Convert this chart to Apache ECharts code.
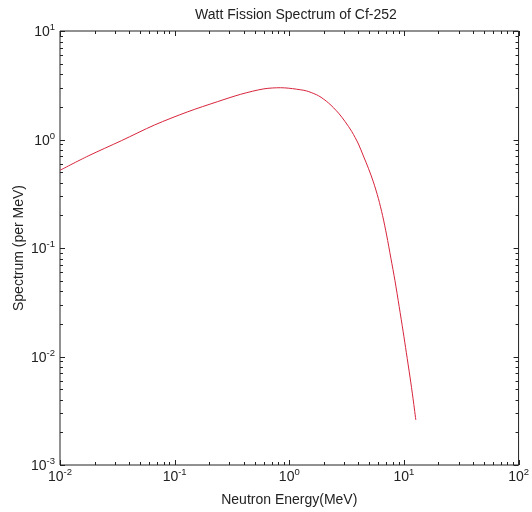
<!DOCTYPE html>
<html>
<head>
<meta charset="utf-8">
<script src="https://cdn.jsdelivr.net/npm/echarts@6/dist/echarts.min.js"></script>
<style>
  html, body { margin: 0; padding: 0; background: #fff; }
  #chart { width: 532px; height: 512px; }
</style>
</head>
<body>
<div id="chart"></div>
<script>
// Neutron energy (MeV) and spectrum value (per MeV) along the curve
const energy = [0.01, 0.0176, 0.0343, 0.0667, 0.130, 0.236, 0.377, 0.601, 0.839, 0.99, 1.34, 1.48, 1.80, 2.20, 2.69, 3.07, 3.51, 4.01, 4.43, 4.90, 5.41, 5.98, 6.51, 7.06, 7.70, 8.35, 9.09, 9.85, 10.5, 11.3, 12.0, 12.7];
const spectrum = [0.52, 0.705, 0.975, 1.36, 1.80, 2.23, 2.61, 2.93, 3.00, 2.97, 2.84, 2.76, 2.53, 2.17, 1.75, 1.46, 1.183, 0.909, 0.705, 0.543, 0.407, 0.287, 0.1995, 0.132, 0.0803, 0.0501, 0.0288, 0.0169, 0.01084, 0.00646, 0.00412, 0.0026];

// Decade ticks and their exponent labels
const xMajorTicks = [0.01, 0.1, 1, 10, 100];
const xTickExponents = ['-2', '-1', '0', '1', '2'];
const yMajorTicks = [0.001, 0.01, 0.1, 1, 10];
const yTickExponents = ['-3', '-2', '-1', '0', '1'];

// Minor ticks at 2..9 within each decade
const xMinorTicks = [0.02, 0.03, 0.04, 0.05, 0.06, 0.07, 0.08, 0.09,
                     0.2, 0.3, 0.4, 0.5, 0.6, 0.7, 0.8, 0.9,
                     2, 3, 4, 5, 6, 7, 8, 9,
                     20, 30, 40, 50, 60, 70, 80, 90];
const yMinorTicks = [0.002, 0.003, 0.004, 0.005, 0.006, 0.007, 0.008, 0.009,
                     0.02, 0.03, 0.04, 0.05, 0.06, 0.07, 0.08, 0.09,
                     0.2, 0.3, 0.4, 0.5, 0.6, 0.7, 0.8, 0.9,
                     2, 3, 4, 5, 6, 7, 8, 9];

const X_MIN = 0.01, X_MAX = 100, Y_MIN = 0.001, Y_MAX = 10;
const INK = '#222';
const FONT = '"Liberation Sans", Arial, sans-serif';

function expLabel(ticks, exps) {
  return function (value) {
    for (let i = 0; i < ticks.length; i++) {
      if (Math.abs(Math.log10(value) - Math.log10(ticks[i])) < 1e-6) {
        return '{b|10}{s|' + exps[i] + '}';
      }
    }
    return '';
  };
}

const richLabel = {
  b: { fontSize: 14, fontFamily: FONT, color: INK, lineHeight: 17, verticalAlign: 'bottom' },
  s: { fontSize: 9.5, fontFamily: FONT, color: INK, lineHeight: 10, verticalAlign: 'top' }
};

// Inward ticks on both opposite sides of the box (bottom/top or left/right)
function tickSeries(values, horizontal, len) {
  return {
    type: 'custom',
    coordinateSystem: 'cartesian2d',
    silent: true,
    clip: false,
    animation: false,
    z: 5,
    data: values.map(v => horizontal ? [v, 1] : [1, v]),
    renderItem: function (params, api) {
      const style = { stroke: INK, lineWidth: 1 };
      if (horizontal) {
        const v = api.value(0);
        const b = api.coord([v, Y_MIN]);
        const t = api.coord([v, Y_MAX]);
        const x = Math.round(b[0]) + 0.5;
        return {
          type: 'group',
          children: [
            { type: 'line', shape: { x1: x, y1: b[1], x2: x, y2: b[1] - len }, style: style },
            { type: 'line', shape: { x1: x, y1: t[1], x2: x, y2: t[1] + len }, style: style }
          ]
        };
      } else {
        const v = api.value(1);
        const l = api.coord([X_MIN, v]);
        const r = api.coord([X_MAX, v]);
        const y = Math.round(l[1]) + 0.5;
        return {
          type: 'group',
          children: [
            { type: 'line', shape: { x1: l[0], y1: y, x2: l[0] + len, y2: y }, style: style },
            { type: 'line', shape: { x1: r[0], y1: y, x2: r[0] - len, y2: y }, style: style }
          ]
        };
      }
    }
  };
}

const chart = echarts.init(document.getElementById('chart'), null, { renderer: 'canvas' });

chart.setOption({
  backgroundColor: '#fff',
  animation: false,
  title: {
    text: 'Watt Fission Spectrum of Cf-252',
    left: 291,
    textAlign: 'center',
    top: 3,
    textStyle: { fontFamily: FONT, fontSize: 14, fontWeight: 'normal', color: INK }
  },
  grid: {
    left: 60, right: 10, top: 31, bottom: 47,
    show: true, borderColor: INK, borderWidth: 1, backgroundColor: '#fff'
  },
  xAxis: {
    type: 'log',
    logBase: 10,
    min: X_MIN,
    max: X_MAX,
    name: 'Neutron Energy(MeV)',
    nameLocation: 'middle',
    nameGap: 28,
    nameMoveOverlap: false,
    nameTextStyle: { fontFamily: FONT, fontSize: 14, color: INK },
    axisLine: { show: false },
    axisTick: { show: false },
    splitLine: { show: false },
    minorTick: { show: false },
    axisLabel: { margin: 2, formatter: expLabel(xMajorTicks, xTickExponents), rich: richLabel, showMinLabel: true, showMaxLabel: true }
  },
  yAxis: {
    type: 'log',
    logBase: 10,
    min: Y_MIN,
    max: Y_MAX,
    name: 'Spectrum (per MeV)',
    nameLocation: 'middle',
    nameGap: 34,
    nameMoveOverlap: false,
    nameTextStyle: { fontFamily: FONT, fontSize: 14, color: INK },
    axisLine: { show: false },
    axisTick: { show: false },
    splitLine: { show: false },
    minorTick: { show: false },
    axisLabel: { margin: 5, formatter: expLabel(yMajorTicks, yTickExponents), rich: richLabel, showMinLabel: true, showMaxLabel: true }
  },
  series: [
    {
      type: 'line',
      data: energy.map((e, i) => [e, spectrum[i]]),
      showSymbol: false,
      smooth: 0.3,
      lineStyle: { color: '#d8243c', width: 1 },
      z: 3
    },
    tickSeries(xMajorTicks, true, 5),
    tickSeries(xMinorTicks, true, 3),
    tickSeries(yMajorTicks, false, 5),
    tickSeries(yMinorTicks, false, 3)
  ]
});
</script>
</body>
</html>
